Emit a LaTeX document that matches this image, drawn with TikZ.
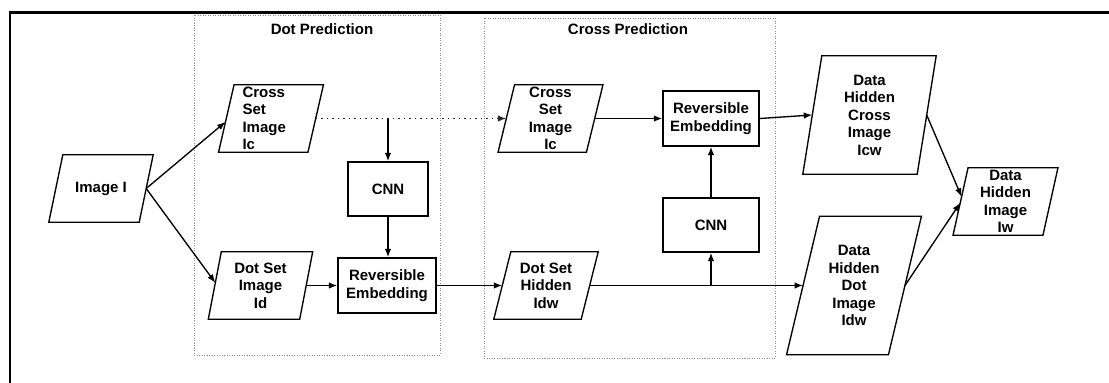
\documentclass[tikz,border=0pt]{standalone}
\usepackage{fontspec}
\setmainfont{Liberation Sans}
\usetikzlibrary{arrows.meta,calc}

% Slanted data box: [node options]{name}{cx}{cy}{side width}{height}{slant}{text}
% Corners are saved as name-tl, name-tr, name-br, name-bl.
\newcommand{\slantbox}[8][]{%
  \node[boxtext, minimum width=#5pt, minimum height=#6pt, #1] (#2) at (#3,#4) {#8};
  \draw[shapeline] ($(#2.north west)+(#7/2,0)$) coordinate (#2-tl)
     -- ($(#2.north east)+(#7/2,0)$) coordinate (#2-tr)
     -- ($(#2.south east)-(#7/2,0)$) coordinate (#2-br)
     -- ($(#2.south west)-(#7/2,0)$) coordinate (#2-bl) -- cycle;
}

\tikzset{
  labelfont/.style={font=\fontsize{15}{17.5}\selectfont\bfseries},
  boxtext/.style={labelfont, align=center, inner sep=0pt},
  shapeline/.style={line width=1.35pt, line join=miter},
  procbox/.style={labelfont, draw, line width=1.35pt, align=center, inner sep=0pt},
  groupbox/.style={draw=black!45, line width=0.8pt, dash pattern=on 0.9pt off 1.6pt, inner sep=0pt},
  grouptitle/.style={labelfont, inner sep=0pt},
  conn/.style={line width=1.35pt, -{Latex[length=8.5pt,width=6.5pt]}},
  dotconn/.style={conn, draw=black!85, dash pattern=on 1.6pt off 3.9pt},
}

\begin{document}
\begin{tikzpicture}[x=1pt,y=-1pt]
\useasboundingbox (0,0) rectangle (1109,383);
\fill[white] (0,0) rectangle (1109,383);

% outer frame
\draw[line width=2.6pt] (1115,12.5) -- (10,12.5) -- (10,390);

% stage groups
\node[groupbox, minimum width=246pt, minimum height=340pt] (dotgrp) at (317,185) {};
\node[groupbox, minimum width=291pt, minimum height=340pt] (crossgrp) at (629.5,188) {};
\node[grouptitle] (dottitle) at (322,29) {Dot Prediction};
\node[grouptitle] (crosstitle) at (628,29) {Cross Prediction};

% data boxes
\slantbox{img}{101}{188.5}{90}{67}{14}{Image I}
\slantbox[align=left, text width=57pt]{icL}{271}{118.5}{89}{67}{15.5}{Cross\\Set\\Image\\Ic}
\slantbox{idL}{260.5}{285.5}{91}{67}{13}{Dot Set\\Image\\Id}
\slantbox{icR}{550.5}{118.5}{88}{67}{16.5}{Cross\\Set\\Image\\Ic}
\slantbox{idw}{546}{285.5}{87}{67}{17}{Dot Set\\Hidden\\Idw}
\slantbox{icw}{869.5}{115}{114}{118}{19}{Data\\Hidden\\Cross\\Image\\Icw}
\slantbox{idw2}{854}{285.5}{101.5}{138}{33}{Data\\Hidden\\Dot\\Image\\Idw}
\slantbox{iw}{1005.5}{201.5}{89.5}{67}{15}{Data\\Hidden\\Image\\Iw}

% processing boxes
\node[procbox, minimum width=80pt, minimum height=54pt] (cnnL) at (388,189) {CNN};
\node[procbox, minimum width=98pt, minimum height=55pt] (reL) at (387,285.5) {Reversible\\Embedding};
\node[procbox, minimum width=96pt, minimum height=55pt] (reR) at (711,118.5) {Reversible\\Embedding};
\node[procbox, minimum width=96pt, minimum height=54pt] (cnnR) at (711,225) {CNN};

% connectors
\draw[conn] (img.east) -- ($(icL-tl)!0.55!(icL-bl)$);
\draw[conn] (img.east) -- ($(idL-tl)!0.46!(idL-bl)$);
\draw[dotconn] (icL.east) -- (icR.west);
\coordinate (tapA) at (cnnL.north |- icL.east);
\draw[conn] (tapA) -- (cnnL.north);
\draw[conn] (cnnL.south) -- (cnnL.south |- reL.north);
\draw[conn] (idL.east) -- (reL.west);
\draw[conn] (reL.east) -- (idw.west);
\draw[conn] (icR.east) -- (reR.west);
\draw[conn] (idw.east) -- (idw2.west);
\coordinate (tapB) at (cnnR.south |- idw.east);
\draw[conn] (tapB) -- (cnnR.south);
\draw[conn] (cnnR.north) -- (reR.south);
\draw[conn] (reR.east) -- (icw.west);
\draw[conn] (icw.east) -- ($(iw-tl)!0.43!(iw-bl)$);
\draw[conn] (idw2.east) -- ($(iw-tl)!0.52!(iw-bl)$);
\end{tikzpicture}
\end{document}
